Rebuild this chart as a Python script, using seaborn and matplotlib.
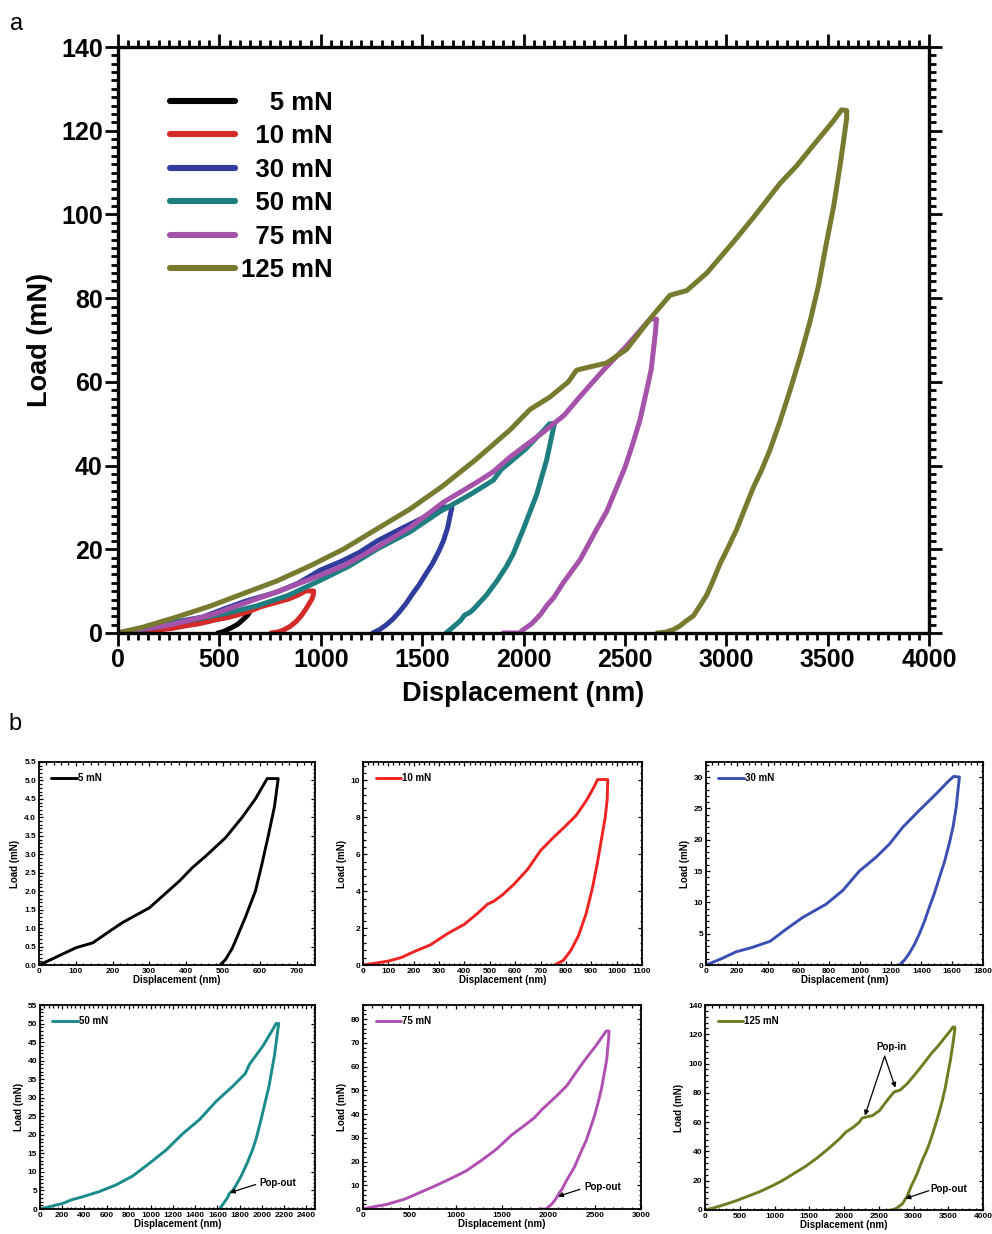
import numpy as np
import pandas as pd
import matplotlib
matplotlib.use("Agg")
import matplotlib.pyplot as plt
from matplotlib.ticker import MultipleLocator, AutoMinorLocator, FormatStrFormatter
from matplotlib.lines import Line2D
import seaborn as sns

# ---------------------------------------------------------------------------
# Load-displacement curves (loading -> hold -> unloading), nm / mN
# ---------------------------------------------------------------------------
labels = ["5 mN", "10 mN", "30 mN", "50 mN", "75 mN", "125 mN"]

disp_5 = [0, 33, 101, 146, 200, 227, 300, 381, 417, 453, 507, 552, 588, 620, 650,
          640, 623, 605, 588, 561, 540, 525, 507, 492]
load_5 = [0, 0.15, 0.47, 0.6, 0.97, 1.15, 1.55, 2.27, 2.64, 2.95, 3.45, 4.0, 4.5, 5.05, 5.05,
          4.3, 3.5, 2.7, 2.0, 1.3, 0.8, 0.45, 0.15, 0]

disp_10 = [0, 50, 102, 150, 201, 267, 333, 399, 452, 491, 515, 550, 597, 650, 700, 750,
           796, 840, 880, 905, 925, 965,
           963, 955, 940, 925, 905, 880, 850, 820, 790, 755]
load_10 = [0, 0.1, 0.22, 0.4, 0.72, 1.1, 1.7, 2.2, 2.8, 3.3, 3.45, 3.8, 4.4, 5.2, 6.2, 6.9,
           7.5, 8.1, 8.9, 9.5, 10.05, 10.05,
           9.0, 8.0, 6.8, 5.6, 4.2, 2.8, 1.6, 0.8, 0.25, 0]

disp_30 = [0, 100, 195, 300, 418, 520, 629, 780, 889, 997, 1105, 1192, 1279, 1387, 1495,
           1582, 1610, 1647,
           1640, 1626, 1605, 1582, 1550, 1517, 1485, 1452, 1420, 1387, 1355, 1322, 1290, 1257]
load_30 = [0, 1.0, 2.1, 2.8, 3.8, 5.7, 7.6, 9.7, 11.9, 15.0, 17.2, 19.3, 22.0, 24.7, 27.3,
           29.5, 30.1, 30.0,
           28.5, 25.2, 22.0, 19.5, 16.5, 14.0, 11.5, 9.3, 7.0, 5.0, 3.3, 1.9, 0.8, 0]

disp_50 = [0, 205, 288, 385, 535, 686, 836, 986, 1137, 1287, 1438, 1588, 1738, 1851, 1889,
           2009, 2099, 2129, 2153,
           2147, 2114, 2065, 1999, 1950, 1917, 1870, 1818, 1760, 1738, 1708, 1690, 1650, 1618]
load_50 = [0, 1.5, 2.5, 3.3, 4.7, 6.5, 8.9, 12.3, 15.9, 20.3, 24.1, 29.0, 33.1, 36.5, 39.0,
           43.9, 48.4, 50.0, 50.0,
           48.8, 41.3, 33.1, 24.8, 19.0, 16.0, 12.5, 9.1, 6.0, 5.0, 4.2, 3.0, 1.3, 0]

disp_75 = [0, 123, 253, 453, 617, 782, 946, 1111, 1275, 1440, 1604, 1769, 1850, 1933, 2098,
           2200, 2279, 2394, 2509, 2624, 2656,
           2650, 2630, 2607, 2575, 2541, 2500, 2459, 2410, 2361, 2279, 2196, 2150, 2114, 2085,
           2040, 1999, 1980, 1900]
load_75 = [0, 1.0, 1.9, 4.2, 7.0, 9.8, 12.8, 16.0, 20.4, 25.2, 31.2, 36.0, 38.5, 42.0, 48.0,
           52.0, 56.5, 62.8, 68.6, 75.0, 75.0,
           71.5, 63.0, 57.9, 51.0, 45.5, 39.5, 34.7, 29.0, 24.8, 17.5, 12.0, 8.5, 6.5, 4.5,
           2.2, 0.8, 0, 0]

disp_125 = [0, 123, 288, 453, 617, 782, 946, 1111, 1275, 1440, 1604, 1769, 1933, 2032, 2131,
            2221, 2262, 2330, 2410, 2509, 2640, 2723, 2805, 2904, 3035, 3133, 3265, 3347, 3429,
            3528, 3569, 3594,
            3594, 3580, 3561, 3530, 3495, 3455, 3413, 3365, 3314, 3265, 3216, 3175, 3133, 3090,
            3052, 3010, 2969, 2935, 2904, 2870, 2838, 2800, 2772, 2739, 2700, 2660]
load_125 = [0, 1.4, 3.8, 6.4, 9.4, 12.4, 16.0, 20.0, 24.8, 29.6, 35.2, 41.6, 48.5, 53.4, 56.4,
            60.0, 62.8, 63.6, 64.5, 67.8, 76.0, 80.7, 81.8, 86.0, 93.4, 99.2, 107.4, 111.6, 116.5,
            122.3, 125.0, 124.8,
            123.0, 118.0, 111.6, 102.0, 93.4, 83.0, 74.4, 66.0, 57.9, 50.5, 43.8, 39.0, 34.7, 29.5,
            24.8, 20.5, 16.5, 12.5, 9.1, 6.5, 4.1, 2.8, 1.7, 0.8, 0.2, 0]

displacements = [disp_5, disp_10, disp_30, disp_50, disp_75, disp_125]
loads = [load_5, load_10, load_30, load_50, load_75, load_125]

colors_main = ["#000000", "#d42a2a", "#323c9c", "#1f7f80", "#a552aa", "#787a30"]
colors_small = ["#000000", "#f02323", "#3b4fb3", "#1a8a8a", "#b04fb2", "#6f7c22"]

# per-panel axis ranges and tick steps for the small plots
small_xlim = [750, 1100, 1800, 2480, 3000, 4000]
small_xstep = [100, 100, 200, 200, 500, 500]
small_ylim = [5.5, 11, 32.4, 55, 86, 140]
small_ystep = [0.5, 2, 5, 5, 10, 20]

sns.set_theme(style="ticks")
plt.rcParams['font.family'] = ['Liberation Sans', 'DejaVu Sans']
plt.rcParams.update({
    "text.color": "black", "axes.labelcolor": "black", "axes.edgecolor": "black",
    "xtick.color": "black", "ytick.color": "black",
})

W, H = 992, 1234
fig = plt.figure(figsize=(W / 100, H / 100), dpi=100)


def frac(l, t, r, b):
    return [l / W, 1 - b / H, (r - l) / W, (b - t) / H]


def curve_frame(d, l):
    return pd.DataFrame({"Displacement (nm)": d, "Load (mN)": l})


# ---------------------------------------------------------------- panel a
ax = fig.add_axes(frac(118, 47, 929, 633))
for d, l, c in zip(displacements, loads, colors_main):
    sns.lineplot(data=curve_frame(d, l), x="Displacement (nm)", y="Load (mN)",
                 sort=False, estimator=None, color=c, lw=3.6, ax=ax,
                 solid_capstyle="round", solid_joinstyle="round")
ax.set_xlim(0, 4000)
ax.set_ylim(0, 140)
ax.xaxis.set_major_locator(MultipleLocator(500))
ax.xaxis.set_minor_locator(MultipleLocator(50))
ax.yaxis.set_major_locator(MultipleLocator(20))
ax.yaxis.set_minor_locator(MultipleLocator(2))
ax.tick_params(which="both", direction="out", top=True, right=True,
               labeltop=False, labelright=False, width=2)
ax.tick_params(which="major", length=9.5, pad=1.5, labelsize=18)
ax.tick_params(which="minor", length=5)
for t in ax.get_xticklabels() + ax.get_yticklabels():
    t.set_fontweight("bold")
ax.set_xlabel("Displacement (nm)", fontsize=19.5, fontweight="bold", labelpad=6)
ax.set_ylabel("Load (mN)", fontsize=19.5, fontweight="bold", labelpad=6)
for s in ax.spines.values():
    s.set_linewidth(2.4)

fs = "\u2007"
legend_labels = [fs + fs + "5 mN", fs + "10 mN", fs + "30 mN", fs + "50 mN", fs + "75 mN", "125 mN"]
handles = [Line2D([0], [0], color=c, lw=4.4, solid_capstyle="round") for c in colors_main]
leg = ax.legend(handles, legend_labels, loc="upper left", bbox_to_anchor=(0.064, 0.925),
                frameon=False, handlelength=2.55, handletextpad=0.2, labelspacing=0.37,
                borderpad=0, borderaxespad=0,
                prop={"size": 18.5, "weight": "bold"})

fig.text(10 / W, 1 - 30 / H, "a", fontsize=17)
fig.text(8 / W, 1 - 730 / H, "b", fontsize=17)

# ---------------------------------------------------------------- panel b
boxes = [(39, 762, 315, 965), (363, 762, 642, 965), (706, 762, 983, 965),
         (40, 1005, 315, 1209), (363, 1005, 641, 1209), (705, 1005, 983, 1210)]
small_axes = []
for i, (box, d, l, c) in enumerate(zip(boxes, displacements, loads, colors_small)):
    a = fig.add_axes(frac(*box))
    sns.lineplot(data=curve_frame(d, l), x="Displacement (nm)", y="Load (mN)",
                 sort=False, estimator=None, color=c, lw=2.1, ax=a,
                 solid_capstyle="round", solid_joinstyle="round")
    a.set_xlim(0, small_xlim[i])
    a.set_ylim(0, small_ylim[i])
    a.xaxis.set_major_locator(MultipleLocator(small_xstep[i]))
    a.xaxis.set_minor_locator(AutoMinorLocator(5))
    a.yaxis.set_major_locator(MultipleLocator(small_ystep[i]))
    a.yaxis.set_minor_locator(AutoMinorLocator(5))
    if i == 0:
        a.yaxis.set_major_formatter(FormatStrFormatter("%.1f"))
    a.tick_params(which="both", direction="in", top=True, right=True, width=0.9,
                  labelsize=6, pad=2)
    a.tick_params(which="major", length=3.2)
    a.tick_params(which="minor", length=1.8)
    for t in a.get_xticklabels() + a.get_yticklabels():
        t.set_fontweight("bold")
    a.set_xlabel("Displacement (nm)", fontsize=7, fontweight="bold", labelpad=0.5)
    a.set_ylabel("Load (mN)", fontsize=7, fontweight="bold", labelpad=3)
    for s in a.spines.values():
        s.set_linewidth(1.3)
    a.legend([Line2D([0], [0], color=c, lw=2.1)], [labels[i]], loc="upper left",
             bbox_to_anchor=(0.045, 0.945), frameon=False, handlelength=2.6,
             handletextpad=0.1, borderpad=0, borderaxespad=0,
             prop={"size": 7, "weight": "bold"})
    small_axes.append(a)

arrow = dict(arrowstyle="-|>", color="black", lw=0.9, mutation_scale=7,
             shrinkA=0, shrinkB=0)
ann_font = dict(fontsize=7, fontweight="bold", va="center")

# 50 mN pop-out
a = small_axes[3]
a.text(1975, 7.0, "Pop-out", ha="left", **ann_font)
a.annotate("", xy=(1712, 4.4), xytext=(1945, 6.6), arrowprops=arrow)

# 75 mN pop-out
a = small_axes[4]
a.text(2390, 9.1, "Pop-out", ha="left", **ann_font)
a.annotate("", xy=(2105, 5.3), xytext=(2340, 8.3), arrowprops=arrow)

# 125 mN pop-in / pop-out
a = small_axes[5]
a.text(2690, 111, "Pop-in", ha="center", **ann_font)
a.annotate("", xy=(2300, 64.5), xytext=(2585, 105), arrowprops=arrow)
a.annotate("", xy=(2740, 83.5), xytext=(2585, 105), arrowprops=arrow)
a.text(3245, 14.5, "Pop-out", ha="left", **ann_font)
a.annotate("", xy=(2885, 7.8), xytext=(3220, 13.2), arrowprops=arrow)

fig.savefig("out.png", dpi=100)
